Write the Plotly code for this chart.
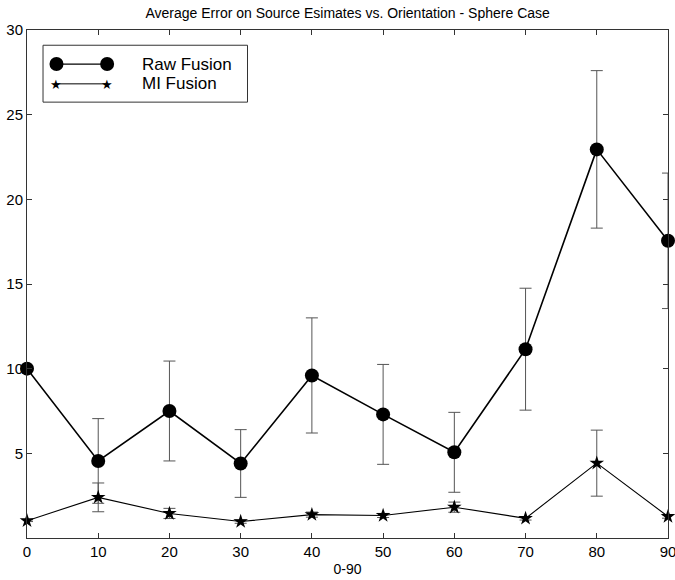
import plotly.graph_objects as go

orientation = [0, 10, 20, 30, 40, 50, 60, 70, 80, 90]
raw_fusion = [10.0, 4.55, 7.5, 4.4, 9.6, 7.3, 5.06, 11.15, 22.95, 17.55]
raw_err = [0.0, 2.5, 2.95, 2.0, 3.4, 2.95, 2.36, 3.6, 4.65, 4.0]
mi_fusion = [1.02, 2.4, 1.45, 0.97, 1.38, 1.33, 1.82, 1.16, 4.42, 1.27]
mi_err = [0.05, 0.85, 0.3, 0.1, 0.15, 0.12, 0.3, 0.1, 1.95, 0.1]
x_ticks = [0, 10, 20, 30, 40, 50, 60, 70, 80, 90]
y_ticks = [5, 10, 15, 20, 25, 30]

FONT = "Liberation Sans, Arial, sans-serif"

fig = go.Figure()
fig.add_trace(go.Scatter(
    x=orientation, y=raw_fusion, name="Raw Fusion", mode="lines+markers",
    line=dict(color="black", width=1.6),
    marker=dict(symbol="circle", size=14, color="black"),
    error_y=dict(type="data", array=raw_err, color="#555555", thickness=1, width=6),
    cliponaxis=False, showlegend=False))
fig.add_trace(go.Scatter(
    x=orientation, y=mi_fusion, name="MI Fusion", mode="lines+markers",
    line=dict(color="black", width=1.1),
    marker=dict(symbol="star", size=11, color="black"),
    error_y=dict(type="data", array=mi_err, color="#555555", thickness=1, width=6),
    cliponaxis=False, showlegend=False))

axis_common = dict(showline=True, linecolor="#333333", linewidth=1, mirror="ticks",
                   ticks="inside", ticklen=5, tickcolor="#333333", showgrid=False,
                   zeroline=False, ticklabeloverflow="allow", automargin=False,
                   tickfont=dict(family=FONT, size=15, color="black"))
fig.update_xaxes(range=[0, 90], tickvals=x_ticks, title=dict(text="0-90", standoff=5,
                 font=dict(family=FONT, size=14, color="black")), **axis_common)
fig.update_yaxes(range=[0, 30], tickvals=y_ticks, **axis_common)

# custom legend (box, sample lines, markers, labels)
lx0, lx1, ly0, ly1 = 0.025, 0.344, 0.858, 0.970
ra, rb = 0.046, 0.125
r1, r2 = 0.933, 0.894
shapes = [
    dict(type="rect", xref="paper", yref="paper", x0=lx0, x1=lx1, y0=ly0, y1=ly1,
         line=dict(color="#333333", width=1), fillcolor="white"),
    dict(type="line", xref="paper", yref="paper", x0=ra, x1=rb, y0=r1, y1=r1,
         line=dict(color="black", width=1.2)),
    dict(type="line", xref="paper", yref="paper", x0=ra, x1=rb, y0=r2, y1=r2,
         line=dict(color="black", width=1)),
]
for cx in (ra, rb):
    shapes.append(dict(type="circle", xref="paper", yref="paper", xsizemode="pixel",
                       ysizemode="pixel", xanchor=cx, yanchor=r1, x0=-7, x1=7, y0=-7, y1=7,
                       fillcolor="black", line=dict(color="black", width=0)))
fig.update_layout(shapes=shapes)
annotations = []
for cx in (ra, rb):
    annotations.append(dict(xref="paper", yref="paper", x=cx, y=r2, text="★",
                            showarrow=False, font=dict(size=13, color="black"),
                            xanchor="center", yanchor="middle"))
annotations += [
    dict(xref="paper", yref="paper", x=0.176, y=r1, text="Raw Fusion", showarrow=False,
         xanchor="left", yanchor="middle", font=dict(family=FONT, size=17, color="black")),
    dict(xref="paper", yref="paper", x=0.176, y=r2, text="MI Fusion", showarrow=False,
         xanchor="left", yanchor="middle", font=dict(family=FONT, size=17, color="black")),
]
fig.update_layout(annotations=annotations)

fig.update_layout(
    width=675, height=580,
    margin=dict(l=27, r=7, t=30, b=42),
    paper_bgcolor="white", plot_bgcolor="white",
    title=dict(text="Average Error on Source Esimates vs. Orientation - Sphere Case",
               x=0.515, xanchor="center", y=0.978, yanchor="middle",
               font=dict(family=FONT, size=14, color="black")),
    showlegend=False,
)

fig.write_html("out.html")
